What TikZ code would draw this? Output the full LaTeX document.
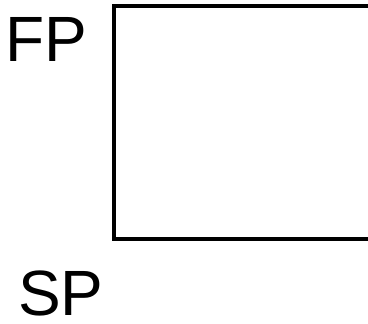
\documentclass[tikz,border=0pt]{standalone}
\usepackage{fontspec}
\setmainfont{Liberation Sans}
\begin{document}
\begin{tikzpicture}[x=1pt,y=1pt,
    lbl/.style={inner sep=0pt,font=\fontsize{64}{64}\selectfont}]
    \useasboundingbox (0,0) rectangle (368,-324);
    \clip (0,0) rectangle (368,-324);
    \node[lbl,anchor=base west] (fp) at (5,-62) {FP};
    \node[lbl,anchor=base west] (sp) at (18,-316) {SP};
    \draw[line width=4pt] (390,-6) -- (114,-6) -- (114,-239) -- (390,-239);
  \end{tikzpicture}
\end{document}
